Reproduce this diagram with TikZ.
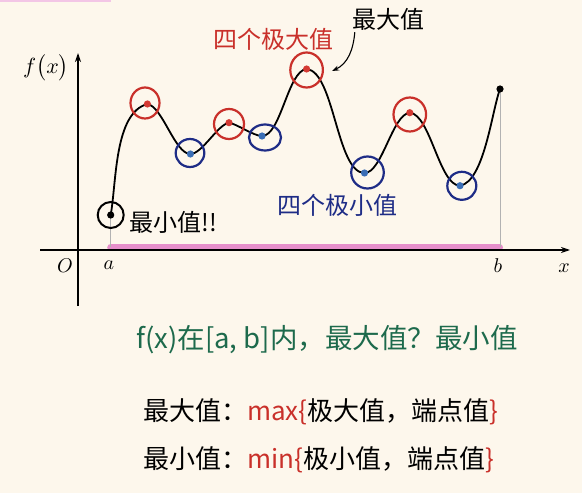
\documentclass[tikz,border=0pt]{standalone}
\usepackage{fontspec}
\newfontfamily\cjk{Noto Sans CJK SC}
\usetikzlibrary{arrows.meta,shapes.geometric}
\definecolor{bg}{HTML}{FDF7EC}
\definecolor{hred}{HTML}{C9302A}
\definecolor{dred}{HTML}{D43A33}
\definecolor{hblue}{HTML}{1E2C86}
\definecolor{dblue}{HTML}{3B6EB5}
\definecolor{hgreen}{HTML}{1D6A4C}
\definecolor{barpink}{HTML}{E68FCB}
\definecolor{toppink}{HTML}{F3C6E6}
\tikzset{
  axis/.style={line width=1.4bp, -{Stealth[length=9bp,width=6bp]}},
  curve/.style={line width=1.8bp, black},
  guide/.style={line width=0.6bp, gray!60},
  maxring/.style={draw=hred, line width=2.2bp, ellipse, inner sep=0pt},
  minring/.style={draw=hblue, line width=2.2bp, ellipse, inner sep=0pt},
  endring/.style={draw=black, line width=2bp, circle, inner sep=0pt, minimum size=26bp},
  hw/.style={font=\cjk\fontsize{24bp}{28bp}\selectfont, inner sep=0pt},
  hwbig/.style={font=\cjk\fontsize{26bp}{30bp}\selectfont, inner sep=0pt},
  mathlbl/.style={inner sep=0pt, scale=2.0},
  lp/.style={looseness=0.6},
}
\begin{document}
\begin{tikzpicture}[x=1bp,y=1bp]
\fill[bg] (0,0) rectangle (582,-493);
\useasboundingbox (0,0) rectangle (582,-493);
\fill[toppink] (0,0) rectangle (111,-2);

% points
\coordinate (p0) at (110.7,-215);
\coordinate (p1) at (147.4,-104);
\coordinate (p2) at (190.4,-154);
\coordinate (p3) at (229,-122.7);
\coordinate (p4) at (262,-136);
\coordinate (p5) at (306.6,-69);
\coordinate (p6) at (364.5,-173);
\coordinate (p7) at (409.8,-112.7);
\coordinate (p8) at (460,-185.7);
\coordinate (p9) at (500,-89);

% pink interval bar
\coordinate (xa) at (110.7,-247.3);
\coordinate (xb) at (499.5,-247.3);
\draw[barpink, line width=7bp, line cap=round] (xa) -- (xb);

% guides
\draw[guide] (p0) -- (p0 |- xa);
\draw[guide] (p9) -- (p9 |- xa);

% axes
\coordinate (xl) at (40,-250);
\coordinate (xr) at (570,-250);
\coordinate (yb) at (78,-306);
\coordinate (yt) at (78,-53);
\draw[axis] (xl) -- (xr);
\draw[axis] (yb) -- (yt);

\node[mathlbl, scale=1.1] (fx) at (46,-68) {$f\bigl(x\bigr)$};
\node[mathlbl] (lo) at (65,-266) {$O$};
\node[mathlbl] (la) at (109,-265) {$a$};
\node[mathlbl] (lb) at (498,-266) {$b$};
\node[mathlbl] (lx) at (564,-268) {$x$};

% curve
\draw[curve] (p0) to[out=80,in=195,looseness=0.75] (p1) to[lp,out=-10,in=180] (p2)
  to[lp,out=0,in=190] (p3) to[lp,out=-10,in=180] (p4) to[lp,out=0,in=185] (p5)
  to[lp,out=-5,in=180] (p6) to[lp,out=0,in=185] (p7) to[lp,out=-5,in=180] (p8)
  to[out=10,in=250,looseness=0.6] (p9);

% rings
\node[maxring, minimum width=29bp, minimum height=31bp] (c1) at (145,-103) {};
\node[minring, minimum width=28.6bp, minimum height=28bp] (c2) at (190,-153) {};
\node[maxring, minimum width=30bp, minimum height=30bp] (c3) at (229,-124) {};
\node[minring, minimum width=32bp, minimum height=26bp] (c4) at (265,-137.5) {};
\node[maxring, minimum width=32.6bp, minimum height=35bp] (c5) at (306.6,-70) {};
\node[minring, minimum width=32.6bp, minimum height=32bp] (c6) at (367.5,-172.5) {};
\node[maxring, minimum width=32.6bp, minimum height=34bp] (c7) at (409.8,-114.5) {};
\node[minring, minimum width=29bp, minimum height=28bp] (c8) at (461.8,-185.8) {};
\node[endring] (c0) at (110.7,-215) {};

% dots
\foreach \p in {p1,p3,p5,p7} \fill[dred] (\p) circle (3.6bp);
\foreach \p in {p2,p4,p6,p8} \fill[dblue] (\p) circle (3.6bp);
\foreach \p in {p0,p9} \fill[black] (\p) circle (3.6bp);

% labels
\node[hw, text=hred] (lblmaxs) at (273,-39) {四个极大值};
\node[hw] (lblmax) at (388,-19) {最大值};
\node[hw, text=hblue] (lblmins) at (337,-205) {四个极小值};
\node[hw] (lblmin) at (173,-222) {最小值!!};
\coordinate (tipmax) at (332,-71);
\draw[line width=1.1bp, -{Stealth[length=7bp,width=5bp]}] ([xshift=3bp,yshift=-2bp]lblmax.south west) to[out=-95,in=25] (tipmax);

% texts
\node[hw, text=hgreen, font=\cjk\fontsize{27.5bp}{32bp}\selectfont] (t1) at (327,-340) {f(x)在[a, b]内，最大值？最小值};
\node[hwbig, anchor=west] (t2) at (143,-412) {最大值：\textcolor{hred}{max\{}极大值，端点值\textcolor{hred}{\}}};
\node[hwbig, anchor=west] (t3) at (143,-460) {最小值：\textcolor{hred}{min\{}极小值，端点值\textcolor{hred}{\}}};
\end{tikzpicture}
\end{document}
